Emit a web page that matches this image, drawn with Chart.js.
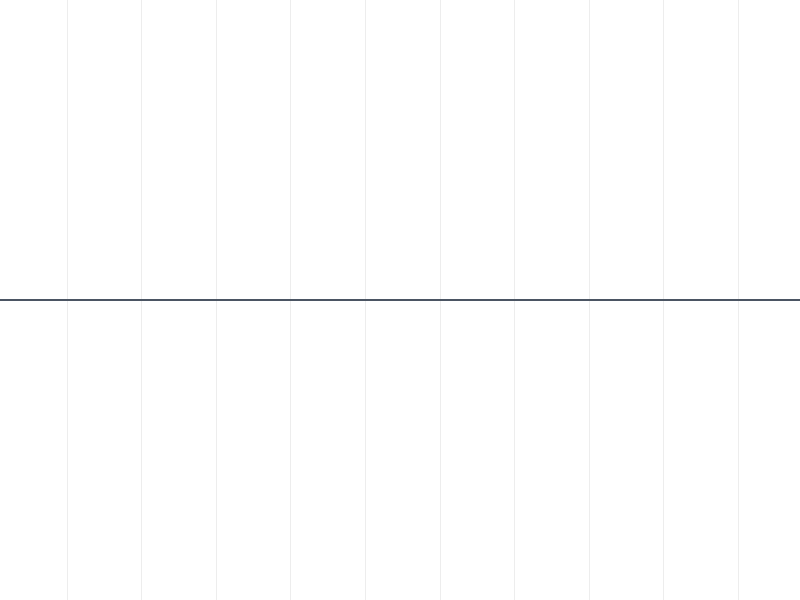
<!DOCTYPE html>
<html>
<head>
<meta charset="utf-8">
<script src="https://cdn.jsdelivr.net/npm/chart.js@4/dist/chart.umd.min.js"></script>
<style>
  html, body { margin: 0; padding: 0; background: #fff; }
  #wrap { width: 800px; height: 600px; }
</style>
</head>
<body>
<div id="wrap"><canvas id="flatChart" width="800" height="600"></canvas></div>
<script>
// Datos: una serie plana que cruza todo el ancho
const xValues = [-1, 0, 1, 2, 3, 4, 5, 6, 7, 8, 9, 10];
const yValues = [0, 0, 0, 0, 0, 0, 0, 0, 0, 0, 0, 0];
const xRange = [-0.9024, 9.8278];
const yRange = [-1, 1];

const points = xValues.map((x, i) => ({ x: x, y: yValues[i] }));

const ctx = document.getElementById('flatChart').getContext('2d');
const flatChart = new Chart(ctx, {
    type: 'line',
    data: {
        datasets: [{
            data: points,
            borderColor: '#4b5563',
            borderWidth: 2,
            pointRadius: 0,
            fill: false,
            tension: 0
        }]
    },
    options: {
        responsive: false,
        animation: false,
        layout: { padding: 0 },
        plugins: {
            legend: { display: false },
            tooltip: { enabled: false }
        },
        scales: {
            x: {
                type: 'linear',
                min: xRange[0],
                max: xRange[1],
                border: { display: false },
                grid: { color: 'rgba(0,0,0,0.07)', drawTicks: false },
                ticks: { display: false, stepSize: 1, includeBounds: false }
            },
            y: {
                display: false,
                min: yRange[0],
                max: yRange[1]
            }
        }
    }
});
</script>
</body>
</html>
